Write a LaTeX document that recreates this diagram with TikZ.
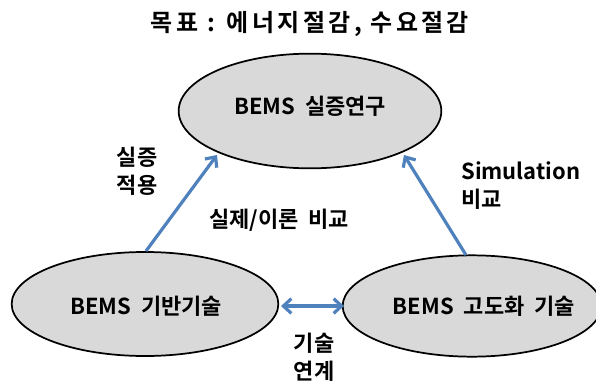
\documentclass[tikz,border=0pt]{standalone}
\usepackage{fontspec}
\setmainfont{Noto Sans CJK KR}[BoldFont={Noto Sans CJK KR Bold}]
\newfontfamily\headfont{Noto Sans CJK KR Bold}[LetterSpace=14]
\usetikzlibrary{arrows.meta,shapes.geometric}
\definecolor{ovalgray}{HTML}{D9D9D9}
\definecolor{linkblue}{HTML}{4F81BD}
\tikzset{
  oval/.style={ellipse, draw=black, line width=1.3pt, fill=ovalgray,
    minimum width=#1, inner sep=0pt},
  lbl/.style={font=\fontsize{16.5}{21}\selectfont\bfseries, align=center, inner sep=0pt},
  link/.style={draw=linkblue, line width=2.4pt, -{Straight Barb[length=6pt,width=11pt]}},
  bilink/.style={draw=linkblue, line width=2.4pt, {Straight Barb[length=6pt,width=11pt]}-{Straight Barb[length=6pt,width=11pt]}}
}
\begin{document}
\begin{tikzpicture}[x=0.75pt,y=-0.75pt]
  \useasboundingbox (0,0) rectangle (596,382);
  % objective line
  \node[inner sep=0pt, font=\headfont\fontsize{18}{22}\selectfont] (goal) at (310,24) {목표 : 에너지절감, 수요절감};
  % the three study areas
  \node[oval=197pt, minimum height=86pt] (field) at (310,111) {};
  \node[lbl] (fieldt) at (310,106) {BEMS\ \ 실증연구};
  \node[oval=200pt, minimum height=78pt] (base) at (145,304) {};
  \node[lbl] (baset) at (146,306) {BEMS\ \ 기반기술};
  \node[oval=194pt, minimum height=76pt] (adv) at (472,306) {};
  \node[lbl] (advt) at (484,306) {BEMS\ \ 고도화\ \ 기술};
  % connectors
  \coordinate (b1) at (146,251);
  \coordinate (f1) at (217,155);
  \coordinate (a1) at (466,255);
  \coordinate (f2) at (404,155);
  \draw[link] (b1) -- (f1);
  \draw[link] (a1) -- (f2);
  \coordinate (bl) at (281,306);
  \coordinate (al) at (344,306);
  \draw[bilink] (bl) -- (al);
  % connector labels
  \node[lbl] (apply) at (137,171) {실증\\적용};
  \node[lbl, align=left, anchor=west] (sim) at (461,186) {Simulation\\비교};
  \node[lbl] (cmp) at (279,220) {실제/이론\ \ 비교};
  \node[lbl] (tie) at (314,357) {기술\\연계};
\end{tikzpicture}
\end{document}
